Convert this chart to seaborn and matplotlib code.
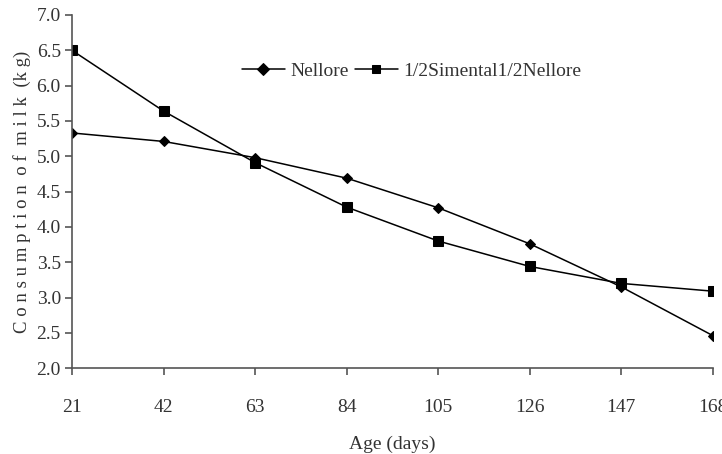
import pandas as pd
import seaborn as sns
import matplotlib.pyplot as plt

age = [21, 42, 63, 84, 105, 126, 147, 168]
nellore = [5.33, 5.21, 4.98, 4.69, 4.27, 3.76, 3.15, 2.46]
simental = [6.50, 5.64, 4.91, 4.28, 3.80, 3.44, 3.20, 3.09]
groups = ["Nellore", "1/2Simental1/2Nellore"]
y_ticks = [2.0, 2.5, 3.0, 3.5, 4.0, 4.5, 5.0, 5.5, 6.0, 6.5, 7.0]

df = pd.DataFrame({
    "age": age * 2,
    "milk": nellore + simental,
    "group": [groups[0]] * len(age) + [groups[1]] * len(age),
})

sns.set_style("ticks")
plt.rcParams["font.family"] = ["Liberation Serif", "DejaVu Serif"]

fig = plt.figure(figsize=(7.22, 4.54), dpi=100)
ax = fig.add_axes([0.0997, 0.189, 0.8878, 0.778])

sns.lineplot(
    data=df, x="age", y="milk", hue="group", style="group",
    palette=["black", "black"], markers=["D", "s"], dashes=False,
    markersize=6, linewidth=1.1, markeredgecolor="black", ax=ax,
)
# diamonds small, squares a bit bigger, like the original
for line, ms in zip(ax.lines[:2], [5, 7.5]):
    line.set_markersize(ms)

ax.set_xlim(21, 168)
ax.set_ylim(2.0, 7.0)
ax.set_xticks(age)
ax.set_yticks(y_ticks)
ax.set_yticklabels([f"{v:.1f}" for v in y_ticks])
sns.despine(ax=ax)
for s in ["left", "bottom"]:
    ax.spines[s].set_color("#555555")
    ax.spines[s].set_linewidth(1.2)
ax.tick_params(axis="both", colors="#555555", labelcolor="#333333",
               labelsize=14, length=5, width=1.2)
ax.tick_params(axis="x", pad=17)
ax.tick_params(axis="y", pad=3)

ax.set_xlabel("Age (days)", fontsize=14, color="#333333", labelpad=14)
ax.set_ylabel("C o n s u m p t i o n  o f  m i l k  (k g)", fontsize=13.5,
              color="#333333", labelpad=4)

leg = ax.legend(loc="upper center", bbox_to_anchor=(0.53, 0.915), ncol=2,
                frameon=False, fontsize=14, handlelength=2.2,
                columnspacing=0.3, handletextpad=0.3, title=None)
for t in leg.get_texts():
    t.set_color("#333333")

fig.savefig("out.png", dpi=100)
